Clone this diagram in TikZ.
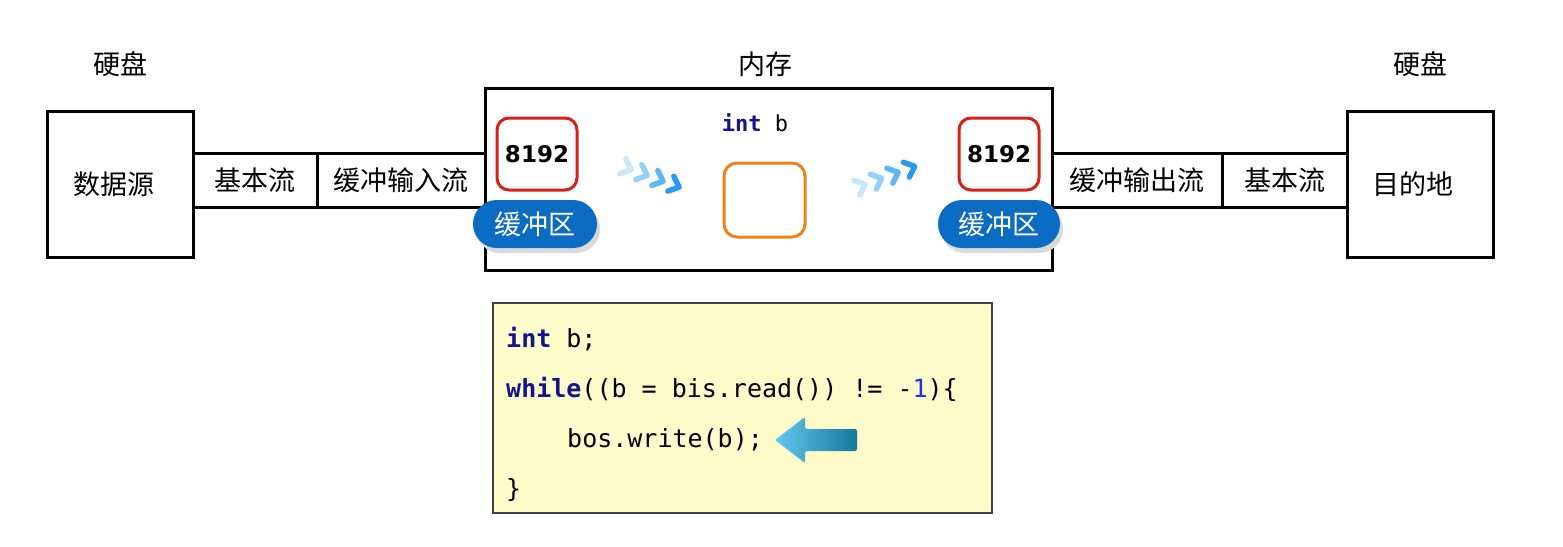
\documentclass[tikz,border=0pt]{standalone}
\usepackage{fontspec}
\setmainfont{Noto Sans CJK SC}
\newfontfamily\codef{DejaVu Sans Mono}
\newfontfamily\numf{DejaVu Sans}
\definecolor{pillblue}{RGB}{12,108,196}
\definecolor{boxred}{RGB}{214,32,26}
\definecolor{boxorange}{RGB}{240,128,25}
\definecolor{codebg}{RGB}{253,251,202}
\definecolor{kwblue}{RGB}{20,20,140}
\definecolor{numblue}{RGB}{30,50,235}
\definecolor{arrlight}{RGB}{100,200,238}
\definecolor{arrdark}{RGB}{20,120,155}
\definecolor{chA}{RGB}{200,230,253}
\definecolor{chB}{RGB}{150,208,250}
\definecolor{chC}{RGB}{95,182,245}
\definecolor{chD}{RGB}{40,155,240}
\tikzset{
  blk/.style={draw=black, line width=3pt, inner sep=0pt, font=\fontsize{27}{30}\selectfont},
  hdr/.style={font=\fontsize{27}{30}\selectfont, inner sep=0pt},
  numbox/.style={draw=boxred, line width=3pt, rounded corners=12pt, minimum width=80pt, minimum height=72pt, fill=white, inner sep=0pt, font=\numf\bfseries\fontsize{23}{26}\selectfont},
  pill/.style={fill=pillblue, rounded corners=24pt, minimum height=48pt, inner sep=0pt, text=white, font=\fontsize{27}{30}\selectfont},
  pillshadow/.style={fill=black!15, rounded corners=24pt, minimum height=48pt, inner sep=0pt},
  codeline/.style={anchor=base west, inner sep=0pt, font=\codef\fontsize{25}{28}\selectfont},
  chev/.style={line width=5.5pt, line cap=round, line join=round},
}
\begin{document}
\begin{tikzpicture}[x=1pt,y=-1pt]
\useasboundingbox (0,0) rectangle (1563,546);
% headers
\node[hdr] (h1) at (120,64) {硬盘};
\node[hdr] (h2) at (765,64) {内存};
\node[hdr] (h3) at (1420,64) {硬盘};
% memory box
\node[blk, minimum width=567pt, minimum height=182pt] (mem) at (768.5,179) {};
% left side
\node[blk, minimum width=146pt, minimum height=146pt] (src) at (120,184) {\hspace*{-12pt}数据源};
\node[blk, minimum width=124pt, minimum height=54pt] (bs1) at (255,180) {基本流};
\node[blk, minimum width=168pt, minimum height=54pt] (bin) at (401,180) {缓冲输入流};
% right side
\node[blk, minimum width=170pt, minimum height=54pt] (bout) at (1137,180.5) {缓冲输出流};
\node[blk, minimum width=125pt, minimum height=54pt] (bs2) at (1284.5,180.5) {基本流};
\node[blk, minimum width=146pt, minimum height=146pt] (dst) at (1420,184) {\hspace*{-14pt}目的地};
% buffers
\node[numbox] (n1) at (537,154) {\raisebox{-2pt}{8192}};
\node[numbox] (n2) at (999,154) {\raisebox{-2pt}{8192}};
\node[pillshadow, minimum width=124pt] (s1) at (538,229) {};
\node[pillshadow, minimum width=122pt] (s2) at (1002,229) {};
\node[pill, minimum width=124pt] (p1) at (535,224) {缓冲区};
\node[pill, minimum width=122pt] (p2) at (999,224) {缓冲区};
% variable b
\node[anchor=base, inner sep=0pt, font=\codef\fontsize{22}{24}\selectfont] (ib) at (755,131) {\textcolor{kwblue}{\bfseries int} b};
\node[draw=boxorange, line width=3pt, rounded corners=13pt, minimum width=81pt, minimum height=74pt] (var) at (764.5,200) {};
% chevrons left (pointing down-right)
\foreach \i/\c in {0/chA,1/chB,2/chC,3/chD}{
  \draw[chev, draw=\c, shift={(627+16*\i,168+5.8*\i)}, rotate=-22] (-4.5,-8) -- (4.5,0) -- (-4.5,8);
}
% chevrons right (pointing up-right)
\foreach \i/\c in {0/chA,1/chB,2/chC,3/chD}{
  \draw[chev, draw=\c, shift={(861+16.5*\i,186-6*\i)}, rotate=22] (-4.5,-8) -- (4.5,0) -- (-4.5,8);
}
% code box
\node[draw=black!75, line width=1.5pt, fill=codebg, minimum width=499pt, minimum height=210pt] (code) at (742.5,408) {};
\node[codeline] (c1) at (506,347) {\textcolor{kwblue}{\bfseries int} b;};
\node[codeline] (c2) at (506,397) {\textcolor{kwblue}{\bfseries while}((b = bis.read()) != -\textcolor{numblue}{1})\{};
\node[codeline] (c3) at (567,447) {bos.write(b);};
\node[codeline] (c4) at (506,497) {\}};
% pointer arrow
\shade[left color=arrlight, right color=arrdark, rounded corners=2pt]
  (775,440) -- (805,417) -- (805,429) -- (857,429) -- (857,451) -- (805,451) -- (805,463) -- cycle;
\end{tikzpicture}
\end{document}
